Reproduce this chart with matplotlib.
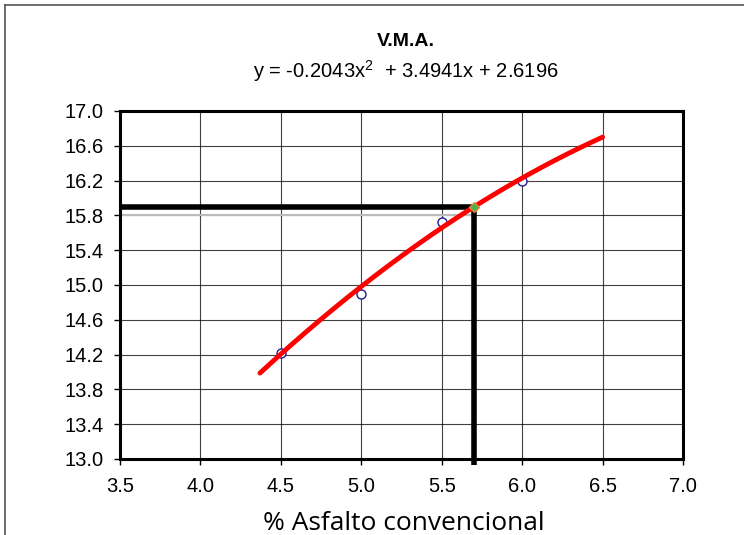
import numpy as np
import matplotlib
matplotlib.use("Agg")
import matplotlib.pyplot as plt
from matplotlib.lines import Line2D

# Measured VMA values vs. asphalt content
asfalto = [4.5, 5.0, 5.5, 6.0]
vma = [14.22, 14.90, 15.72, 16.20]

# Quadratic trend coefficients
coef = [-0.2043, 3.4941, 2.6196]
x_fit_range = [4.37, 6.5]

# Design asphalt content and the resulting VMA
x_opt = 5.7
y_opt = coef[0] * x_opt**2 + coef[1] * x_opt + coef[2]

x_ticks = [3.5, 4.0, 4.5, 5.0, 5.5, 6.0, 6.5, 7.0]
y_ticks = [13.0, 13.4, 13.8, 14.2, 14.6, 15.0, 15.4, 15.8, 16.2, 16.6, 17.0]

plt.rcParams['font.family'] = ['Liberation Sans', 'DejaVu Sans']
plt.rcParams['mathtext.fontset'] = 'custom'
plt.rcParams['mathtext.rm'] = 'Liberation Sans'
plt.rcParams['mathtext.it'] = 'Liberation Sans'

fig = plt.figure(figsize=(7.44, 5.35), dpi=100)
ax = fig.add_axes([120/744, 1 - 459/535, 563/744, 348/535])

ax.set_xlim(3.5, 7.0)
ax.set_ylim(13.0, 17.0)
ax.set_xticks(x_ticks)
ax.set_yticks(y_ticks)
ax.set_xticklabels([f"{v:.1f}" for v in x_ticks])
ax.set_yticklabels([f"{v:.1f}" for v in y_ticks])
ax.tick_params(direction='out', length=4.5, width=1, labelsize=14.5, color='black')
ax.tick_params(axis='y', pad=7.5)
ax.tick_params(axis='x', pad=8.5)
ax.grid(True, color='black', linewidth=0.8, alpha=0.75)
ax.set_axisbelow(True)
for s in ax.spines.values():
    s.set_linewidth(2.2)
    s.set_color('black')

# light reference line
ax.plot([3.5, x_opt], [15.8, 15.8], color='#bbbbbb', linewidth=1.5, zorder=2)

# design lines
ax.plot([3.5, x_opt], [y_opt, y_opt], color='black', linewidth=4, solid_capstyle='butt', zorder=3)
ax.plot([x_opt, x_opt], [12.93, y_opt], color='black', linewidth=4, solid_capstyle='butt',
        zorder=3, clip_on=False)

# fitted curve
xf = np.linspace(x_fit_range[0], x_fit_range[1], 200)
yf = np.polyval(coef, xf)
ax.plot(xf, yf, color='#ff0000', linewidth=3.5, solid_capstyle='round', zorder=4)

# measured points
ax.plot(asfalto, vma, linestyle='none', marker='o', markersize=6.5,
        markerfacecolor='white', markeredgecolor='#1a1a9a', markeredgewidth=1, zorder=3.5)

# design point
ax.plot([x_opt], [y_opt], marker='D', markersize=5, markerfacecolor='#4caf50',
        markeredgecolor='#e08a30', markeredgewidth=1, zorder=5)

fig.text(406/744, 1 - 41/535, "V.M.A.", ha='center', va='center', fontsize=14, fontweight='bold')
fig.text(406/744, 1 - 71/535, r"y = -0.2043x$^2$  + 3.4941x + 2.6196", ha='center', va='center',
         fontsize=14.5)
fig.text(404/744, 1 - 530/535, "% Asfalto convencional", ha='center', va='baseline', fontsize=19,
         family=['Open Sans', 'DejaVu Sans'])

# outer frame
fig.add_artist(Line2D([5/744, 1], [1 - 5/535, 1 - 5/535], transform=fig.transFigure,
                      color='#555555', linewidth=1.2))
fig.add_artist(Line2D([5/744, 5/744], [0, 1 - 5/535], transform=fig.transFigure,
                      color='#555555', linewidth=1.2))

fig.savefig("out.png", dpi=100)
